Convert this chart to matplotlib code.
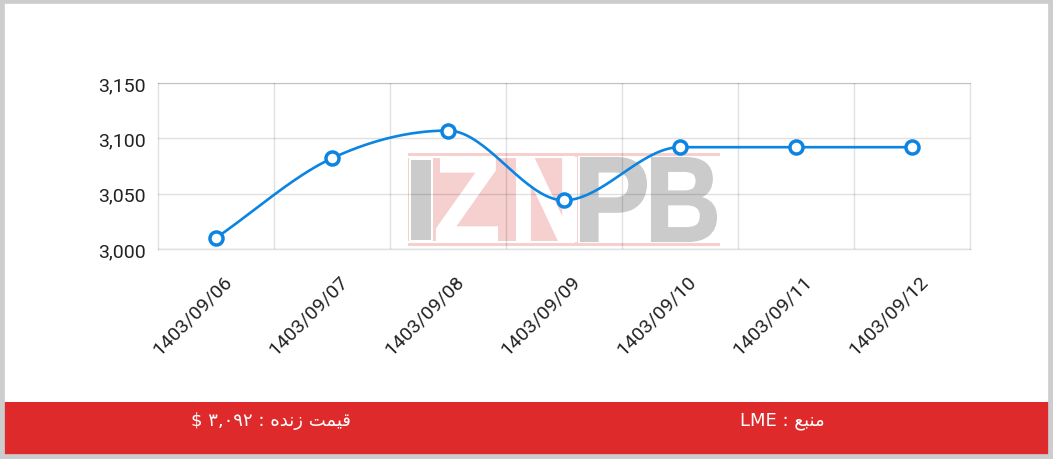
import numpy as np
import matplotlib
matplotlib.use("Agg")
import matplotlib.pyplot as plt
from matplotlib.patches import Rectangle, PathPatch
from matplotlib.textpath import TextPath
from matplotlib.font_manager import FontProperties
from matplotlib.transforms import Affine2D, ScaledTranslation

# data
dates = ["1403/09/06", "1403/09/07", "1403/09/08", "1403/09/09",
         "1403/09/10", "1403/09/11", "1403/09/12"]
prices = [3010, 3082, 3107, 3044, 3092, 3092, 3092]
y_ticks = [3000, 3050, 3100, 3150]

# footer texts (presentation forms, visual order, matplotlib has no shaping)
live_price = "$ \u06f3,\u06f0\u06f9\u06f2 : \ufee9\ufeaa\ufee7\ufeaf \ufe96\ufee4\ufef4\ufed7"
source = "LME : \ufeca\ufe92\ufee8\ufee3"

W, H = 1053, 460
BLUE = "#0b84e2"
PINK = "#f6cfcf"
GREY = "#cbcbcb"


def monotone(x, y, n=40):
    # Fritsch-Carlson monotone cubic, like chart.js cubicInterpolationMode 'monotone'
    x = np.asarray(x, float)
    y = np.asarray(y, float)
    d = np.diff(y) / np.diff(x)
    m = np.zeros_like(y)
    m[0], m[-1] = d[0], d[-1]
    for k in range(1, len(y) - 1):
        m[k] = 0 if d[k - 1] * d[k] <= 0 else (d[k - 1] + d[k]) / 2
    for k in range(len(d)):
        if d[k] == 0:
            m[k] = m[k + 1] = 0
            continue
        a, b = m[k] / d[k], m[k + 1] / d[k]
        s = a * a + b * b
        if s > 9:
            t = 3 / np.sqrt(s)
            m[k], m[k + 1] = t * a * d[k], t * b * d[k]
    xs, ys = [], []
    for k in range(len(d)):
        h = x[k + 1] - x[k]
        t = np.linspace(0, 1, n)
        h00 = 2 * t**3 - 3 * t**2 + 1
        h10 = t**3 - 2 * t**2 + t
        h01 = -2 * t**3 + 3 * t**2
        h11 = t**3 - t**2
        xs.append(x[k] + t * h)
        ys.append(h00 * y[k] + h10 * h * m[k] + h01 * y[k + 1] + h11 * h * m[k + 1])
    return np.concatenate(xs), np.concatenate(ys)


def px_rect(x0, y0, x1, y1, color, z=-2):
    # pixel box, y measured from top
    r = Rectangle((x0 / W, 1 - y1 / H), (x1 - x0) / W, (y1 - y0) / H,
                  transform=fig.transFigure, facecolor=color, edgecolor="none", zorder=z)
    fig.add_artist(r)


def letter(ch, x0, x1, y0, y1, color):
    fp = FontProperties(family="Liberation Sans", weight="bold")
    tp = TextPath((0, 0), ch, size=100, prop=fp)
    bb = tp.get_extents()
    tr = (Affine2D().translate(-bb.x0, -bb.y0)
          .scale((x1 - x0) / bb.width, (y1 - y0) / bb.height)
          .translate(x0, H - y1).scale(1 / W, 1 / H))
    p = PathPatch(tr.transform_path(tp), facecolor=color, edgecolor=color, lw=1.5,
                  transform=fig.transFigure, zorder=-1)
    fig.add_artist(p)


fig = plt.figure(figsize=(W / 100, H / 100), dpi=100)

# watermark
px_rect(408, 154, 720, 157, PINK)
px_rect(408, 244, 720, 247, PINK)
px_rect(408, 159, 577, 242, PINK)
px_rect(575, 154, 578, 247, PINK)
px_rect(409, 159, 433, 243, "white")
px_rect(411, 161, 431, 241, GREY)
letter("Z", 437, 497, 159, 242, "white")
letter("N", 517, 576, 159, 242, "white")
letter("P", 581, 646, 159, 242, GREY)
letter("B", 652, 716, 159, 242, GREY)

ax = fig.add_axes([158 / W, 1 - 250 / H, (970 - 158) / W, (250 - 84) / H])
ax.patch.set_alpha(0)

xi = np.arange(len(dates))
sx, sy = monotone(xi, prices)
ax.plot(sx, sy, color=BLUE, lw=1.9, zorder=3, solid_capstyle="round")
ax.plot(xi, prices, ls="none", marker="o", ms=9.4, mew=2.5, mfc="white",
        mec=BLUE, zorder=4, clip_on=False)

ax.set_xlim(-0.5, len(dates) - 0.5)
ax.set_ylim(y_ticks[0], y_ticks[-1])
ax.set_yticks(y_ticks)
ax.set_yticklabels([f"{v:,}" for v in y_ticks])
ax.set_xticks(xi)
ax.set_xticklabels(dates, rotation=45, ha="right", va="center", rotation_mode="anchor")
ax.set_xticks(xi[:-1] + 0.5, minor=True)

ax.grid(True, axis="y", which="major", color="k", alpha=0.12, lw=1)
ax.grid(True, axis="x", which="minor", color="k", alpha=0.12, lw=1)
for s in ax.spines.values():
    s.set_color((0, 0, 0, 0.12))
    s.set_linewidth(1)
ax.tick_params(axis="both", which="both", length=0, labelsize=14,
               labelcolor="#222222", labelfontfamily="Roboto")
ax.tick_params(axis="y", pad=9)
ax.tick_params(axis="x", pad=21)
for lab in ax.get_xticklabels():
    lab.set_transform(lab.get_transform() + ScaledTranslation(0.13, 0, fig.dpi_scale_trans))

# footer
px_rect(4, 403, 1049, 456, "#df2a2b", z=1)
fig.text(271 / W, 1 - 421 / H, live_price, color="white", fontsize=13,
         family=["DejaVu Sans"], ha="center", va="center", zorder=2)
fig.text(782 / W, 1 - 421 / H, source, color="white", fontsize=13,
         family=["DejaVu Sans"], ha="center", va="center", zorder=2)

# frame
fig.add_artist(Rectangle((0, 0), 1, 1, transform=fig.transFigure, fill=False,
                         edgecolor="#cdcdcd", lw=7, zorder=5))

fig.savefig("out.png", dpi=100, facecolor="white")
